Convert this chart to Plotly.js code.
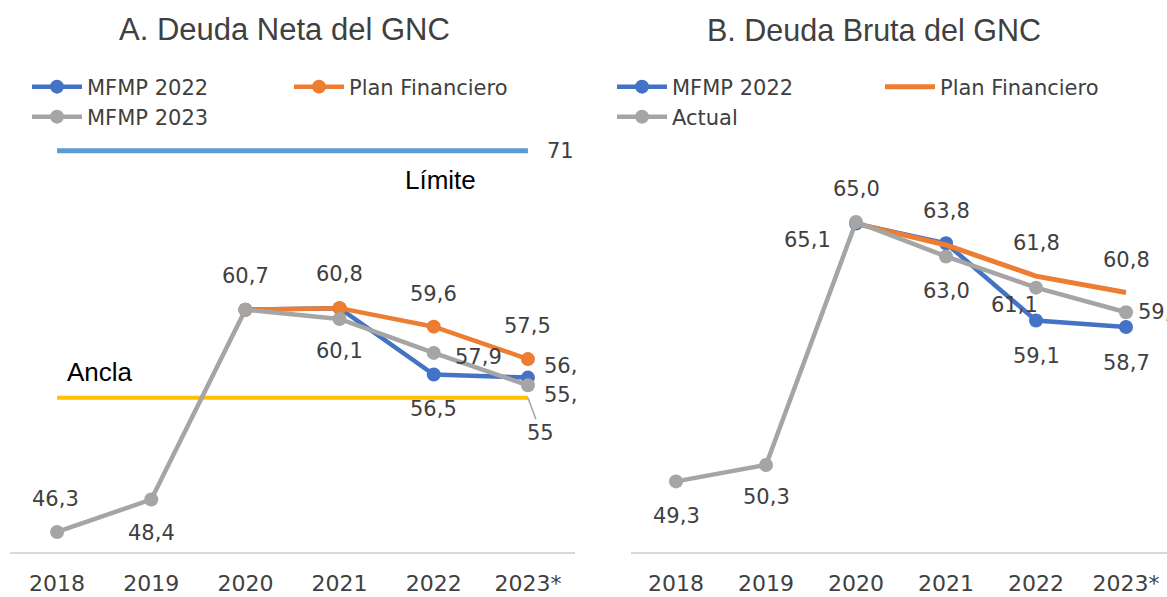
<!DOCTYPE html>
<html>
<head>
<meta charset="utf-8">
<script src="https://cdn.plot.ly/plotly-3.0.1.min.js"></script>
<style>html,body{margin:0;padding:0;background:#fff;}#chart{width:1167px;height:597px;}</style>
</head>
<body>
<div id="chart"></div>
<script>
// ---------- DATA ----------
const years = ['2018', '2019', '2020', '2021', '2022', '2023*'];

// A. Deuda Neta del GNC
const netaMFMP2022 = [null, null, 60.7, 60.8, 56.5, 56.3];
const netaPlan     = [null, null, 60.7, 60.8, 59.6, 57.5];
const netaMFMP2023 = [46.3, 48.4, 60.7, 60.1, 57.9, 55.8];
const netaLimite   = [71, 71, 71, 71, 71, 71];
const netaAncla    = [55, 55, 55, 55, 55, 55];

// B. Deuda Bruta del GNC
const brutaMFMP2022 = [null, null, 65.0, 63.8, 59.1, 58.7];
const brutaPlan     = [null, null, 65.0, 63.7, 61.8, 60.8];
const brutaActual   = [49.3, 50.3, 65.1, 63.0, 61.1, 59.6];

const titleA = 'A. Deuda Neta del GNC';
const titleB = 'B. Deuda Bruta del GNC';

// ---------- LABEL PLACEMENT (style only) ----------
const lblNetaMFMP2022 = [null, null, null, null, {dx: 0, dy: 34}, {dx: 14, dy: -12, a: 'left', clip: true}];
const lblNetaPlan     = [null, null, null, {dx: 0, dy: -34}, {dx: 0, dy: -33}, {dx: 0, dy: -33}];
const lblNetaMFMP2023 = [{dx: -2, dy: -33}, {dx: 0, dy: 33}, {dx: 0, dy: -34}, {dx: 0, dy: 32}, {dx: 45, dy: 4}, {dx: 14, dy: 10, a: 'left', clip: true}];
const lblBrutaMFMP2022 = [null, null, {dx: 0, dy: -35}, {dx: 0, dy: -32}, {dx: 0, dy: 36}, {dx: 0, dy: 36}];
const lblBrutaPlan     = [null, null, null, null, {dx: 0, dy: -33}, {dx: 0, dy: -33}];
const lblBrutaActual   = [{dx: 0, dy: 35}, {dx: 0, dy: 32}, {dx: -49, dy: 18}, {dx: 0, dy: 35}, {dx: -22, dy: 17}, {dx: 10, dy: 0, a: 'left'}];

// ---------- STYLE ----------
const BLUE = '#4472C4', ORANGE = '#ED7D31', GRAY = '#A5A5A5', LBLUE = '#5B9BD5', GOLD = '#FFC000';
const TXT = '#404040';
const FONT = '"DejaVu Sans", sans-serif';
const TFONT = '"Liberation Sans", Arial, sans-serif';
const W = 1167, H = 597;
const px = v => v / W;
const py = v => (H - v) / H;

function fmt(v) { return v.toFixed(1).replace('.', ','); }

function labelAnns(vals, specs, xref, yref) {
  const out = [];
  vals.forEach((v, i) => {
    const s = specs[i];
    if (v === null || !s) return;
    let t = fmt(v);
    if (s.clip) t = t.slice(0, t.indexOf(',') + 1);
    out.push({
      x: i, y: v, xref: xref, yref: yref, text: t, showarrow: false,
      xanchor: s.a || 'center', yanchor: 'middle', xshift: s.dx, yshift: -s.dy,
      font: {family: FONT, size: 21, color: TXT}
    });
  });
  return out;
}

function line(x, y, color, width, name, xa, ya, legend, markers, show) {
  return {
    type: 'scatter', x: x, y: y, name: name, xaxis: xa, yaxis: ya,
    mode: markers ? 'lines+markers' : 'lines',
    line: {color: color, width: width},
    marker: {color: color, size: 14},
    showlegend: show, legend: legend, hoverinfo: 'skip', cliponaxis: false
  };
}

const data = [
  line(years, netaLimite, LBLUE, 5, 'Límite', 'x', 'y', 'legend', false, false),
  line(years, netaAncla, GOLD, 4, 'Ancla', 'x', 'y', 'legend', false, false),
  line(years, netaMFMP2022, BLUE, 4.5, 'MFMP 2022', 'x', 'y', 'legend', true, true),
  line(years, netaPlan, ORANGE, 4.5, 'Plan Financiero', 'x', 'y', 'legend2', true, true),
  line(years, netaMFMP2023, GRAY, 4.5, 'MFMP 2023', 'x', 'y', 'legend3', true, true),
  line(years, brutaMFMP2022, BLUE, 4.5, 'MFMP 2022', 'x2', 'y2', 'legend4', true, true),
  line(years, brutaPlan, ORANGE, 5, 'Plan Financiero', 'x2', 'y2', 'legend5', false, true),
  line(years, brutaActual, GRAY, 4.5, 'Actual', 'x2', 'y2', 'legend6', true, true)
];

let annotations = [
  {xref: 'paper', yref: 'paper', x: px(284), y: py(30), text: titleA, showarrow: false,
   xanchor: 'center', yanchor: 'middle', font: {family: TFONT, size: 31, color: TXT}},
  {xref: 'paper', yref: 'paper', x: px(874), y: py(30), text: titleB, showarrow: false,
   xanchor: 'center', yanchor: 'middle', font: {family: TFONT, size: 30.5, color: TXT}},
  {x: 5, y: netaLimite[5], xref: 'x', yref: 'y', text: String(netaLimite[5]), showarrow: false,
   xanchor: 'left', yanchor: 'middle', xshift: 17, font: {family: FONT, size: 21, color: TXT}},
  {x: 4, y: netaLimite[4], xref: 'x', yref: 'y', text: 'Límite', showarrow: false,
   xanchor: 'center', yanchor: 'middle', xshift: 7, yshift: -29, font: {family: TFONT, size: 26, color: '#000'}},
  {x: 0, y: netaAncla[0], xref: 'x', yref: 'y', text: 'Ancla', showarrow: false,
   xanchor: 'center', yanchor: 'middle', xshift: 43, yshift: 26, font: {family: TFONT, size: 26, color: '#000'}},
  {x: 5, y: netaAncla[5], xref: 'x', yref: 'y', text: String(netaAncla[5]), showarrow: true,
   arrowhead: 0, arrowwidth: 1.5, arrowcolor: GRAY, ax: 13, ay: 35, standoff: 0,
   font: {family: FONT, size: 21, color: TXT}}
];
annotations = annotations
  .concat(labelAnns(netaMFMP2022, lblNetaMFMP2022, 'x', 'y'))
  .concat(labelAnns(netaPlan, lblNetaPlan, 'x', 'y'))
  .concat(labelAnns(netaMFMP2023, lblNetaMFMP2023, 'x', 'y'))
  .concat(labelAnns(brutaMFMP2022, lblBrutaMFMP2022, 'x2', 'y2'))
  .concat(labelAnns(brutaPlan, lblBrutaPlan, 'x2', 'y2'))
  .concat(labelAnns(brutaActual, lblBrutaActual, 'x2', 'y2'));

function legendAt(xPix, yPix) {
  return {x: px(xPix), y: py(yPix), xanchor: 'left', yanchor: 'middle', orientation: 'h',
          bgcolor: 'rgba(0,0,0,0)', itemwidth: 50,
          font: {family: FONT, size: 21, color: TXT}};
}

const yDom = [py(552), py(89)];
const xAxisCommon = {
  type: 'category', showgrid: false, zeroline: false, showline: true,
  linecolor: '#D9D9D9', linewidth: 1.5, ticks: '', ticklabelstandoff: 11,
  tickfont: {family: FONT, size: 22, color: TXT}, fixedrange: true
};
const yAxisCommon = {showgrid: false, zeroline: false, showline: false, showticklabels: false, fixedrange: true};

const layout = {
  width: W, height: H,
  margin: {l: 0, r: 0, t: 0, b: 0},
  paper_bgcolor: '#fff', plot_bgcolor: '#fff',
  showlegend: true,
  xaxis: Object.assign({}, xAxisCommon, {domain: [px(10), px(575)], range: [-0.5, 5.5], anchor: 'y'}),
  xaxis2: Object.assign({}, xAxisCommon, {domain: [px(631), 1], range: [-0.5, 5.5 - 4 / 90], anchor: 'y2'}),
  yaxis: Object.assign({}, yAxisCommon, {domain: yDom, range: [45, 75], anchor: 'x'}),
  yaxis2: Object.assign({}, yAxisCommon, {domain: yDom, range: [45, 45 + 463 / 16.42], anchor: 'x2'}),
  legend: legendAt(27, 87),
  legend2: legendAt(289, 87),
  legend3: legendAt(27, 117),
  legend4: legendAt(612, 87),
  legend5: legendAt(880, 87),
  legend6: legendAt(612, 117),
  annotations: annotations
};

Plotly.newPlot('chart', data, layout, {displayModeBar: false, staticPlot: true});
</script>
</body>
</html>
